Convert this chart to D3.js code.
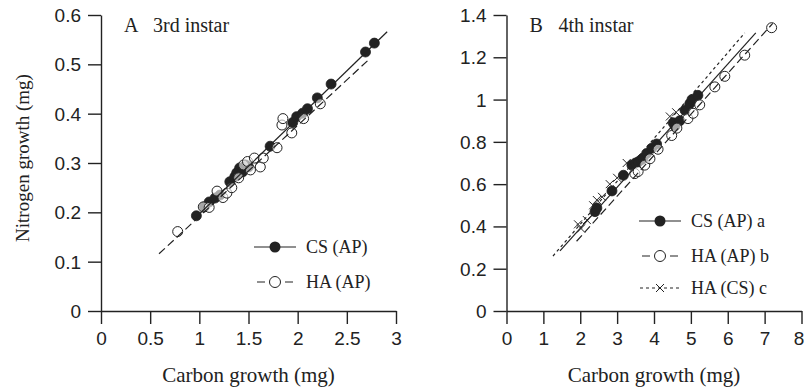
<!DOCTYPE html>
<html>
<head>
<meta charset="utf-8">
<script src="https://cdn.jsdelivr.net/npm/d3@7"></script>
<style>
  html, body { margin: 0; padding: 0; background: #fff; }
  svg { display: block; font-family: "Liberation Serif", "DejaVu Serif", serif; }
</style>
</head>
<body>
<div id="chart"></div>
<script>
// Panel A: 3rd instar
const csA_x = [0.97, 1.05, 1.1, 1.16, 1.21, 1.31, 1.36, 1.38, 1.41, 1.44, 1.47, 1.5, 1.72, 1.95, 1.99, 2.05, 2.1, 2.2, 2.34, 2.69, 2.78];
const csA_y = [0.193, 0.211, 0.221, 0.229, 0.235, 0.262, 0.272, 0.28, 0.29, 0.282, 0.296, 0.292, 0.334, 0.382, 0.394, 0.401, 0.41, 0.432, 0.46, 0.525, 0.543];
const haA_x = [0.78, 1.04, 1.1, 1.18, 1.24, 1.28, 1.33, 1.4, 1.45, 1.49, 1.52, 1.56, 1.62, 1.65, 1.79, 1.84, 1.85, 1.94, 2.06, 2.23];
const haA_y = [0.161, 0.211, 0.21, 0.243, 0.23, 0.239, 0.25, 0.27, 0.296, 0.303, 0.286, 0.31, 0.292, 0.31, 0.331, 0.377, 0.39, 0.361, 0.39, 0.42];
// fitted lines, [x0, x1] and [y0, y1]
const fitCsA_x = [0.95, 2.91], fitCsA_y = [0.187, 0.566];
const fitHaA_x = [0.59, 2.72], fitHaA_y = [0.116, 0.509];

// Panel B: 4th instar
const csB_x = [2.4, 2.45, 2.86, 3.17, 3.4, 3.5, 3.57, 3.65, 3.7, 3.8, 3.94, 4.07, 4.52, 4.57, 4.7, 4.84, 4.97, 5.03, 5.19];
const csB_y = [0.47, 0.487, 0.568, 0.642, 0.69, 0.7, 0.705, 0.715, 0.722, 0.745, 0.77, 0.79, 0.89, 0.875, 0.9, 0.95, 0.98, 1.0, 1.02];
const haB_x = [3.48, 3.57, 3.75, 3.89, 4.11, 4.48, 4.62, 4.92, 5.06, 5.24, 5.65, 5.92, 6.46, 7.19];
const haB_y = [0.65, 0.66, 0.69, 0.72, 0.765, 0.83, 0.865, 0.91, 0.935, 0.975, 1.06, 1.11, 1.21, 1.34];
const hacsB_x = [1.94, 2.02, 2.18, 2.35, 2.45, 2.59, 2.8, 3.0, 3.26, 4.43, 4.6];
const hacsB_y = [0.41, 0.39, 0.43, 0.5, 0.525, 0.54, 0.6, 0.63, 0.7, 0.92, 0.94];
const fitCsB_x = [1.45, 6.76], fitCsB_y = [0.284, 1.315];
const fitHaB_x = [1.9, 7.22], fitHaB_y = [0.33, 1.36];
const fitHacsB_x = [1.26, 6.46], fitHacsB_y = [0.26, 1.315];

// ticks
const xTicksA = [0, 0.5, 1, 1.5, 2, 2.5, 3];
const yTicksA = [0, 0.1, 0.2, 0.3, 0.4, 0.5, 0.6];
const xTicksB = [0, 1, 2, 3, 4, 5, 6, 7, 8];
const yTicksB = [0, 0.2, 0.4, 0.6, 0.8, 1, 1.2, 1.4];

const ink = '#222';
const width = 804, height = 387;

const svg = d3.select('#chart').append('svg')
  .attr('width', width)
  .attr('height', height);

const zip = (xs, ys) => xs.map((x, i) => ({ x: x, y: ys[i] }));

function drawPanel(p) {
  const x = d3.scaleLinear().domain(p.xDomain).range(p.xRange);
  const y = d3.scaleLinear().domain(p.yDomain).range([311, 15]);
  const g = svg.append('g');

  // axes
  const xAxis = g.append('g')
    .attr('transform', `translate(0,${y(0)})`)
    .call(d3.axisBottom(x).tickValues(p.xTicks).tickFormat(d => String(d))
      .tickSize(13).tickSizeOuter(0).tickPadding(8));
  const yAxis = g.append('g')
    .attr('transform', `translate(${x(0)},0)`)
    .call(d3.axisLeft(y).tickValues(p.yTicks).tickFormat(d => String(d))
      .tickSize(13).tickSizeOuter(0).tickPadding(7));
  [xAxis, yAxis].forEach(a => {
    a.selectAll('path, line').attr('stroke', ink).attr('stroke-width', 1.4);
    a.selectAll('text').attr('fill', ink).style('font-size', '19px').style('font-family', 'inherit');
  });
  yAxis.selectAll('text').attr('dy', '0.34em');
  // last x label sits on the page edge, nudge it in
  xAxis.selectAll('.tick text').filter(d => d === p.xDomain[1] && p.xRange[1] > 790).attr('dx', -3);

  // x title
  g.append('text')
    .attr('x', (p.xRange[0] + p.xRange[1]) / 2)
    .attr('y', 382)
    .attr('text-anchor', 'middle')
    .attr('fill', ink)
    .style('font-size', '21px')
    .text('Carbon growth (mg)');

  // panel label
  g.append('text').attr('x', x(0) + 23).attr('y', 32).attr('fill', ink)
    .style('font-size', '20px').text(p.letter);
  g.append('text').attr('x', x(0) + 52).attr('y', 32).attr('fill', ink)
    .style('font-size', '20px').text(p.title);

  // markers
  p.series.forEach(s => {
    const pts = zip(s.xs, s.ys);
    if (s.marker === 'filled') {
      g.append('g').selectAll('circle').data(pts).enter().append('circle')
        .attr('cx', d => x(d.x)).attr('cy', d => y(d.y)).attr('r', 5)
        .attr('fill', ink).attr('stroke', ink).attr('stroke-width', 0.8);
    } else if (s.marker === 'open') {
      g.append('g').selectAll('circle').data(pts).enter().append('circle')
        .attr('cx', d => x(d.x)).attr('cy', d => y(d.y)).attr('r', 5)
        .attr('fill', '#fff').attr('fill-opacity', 0.6).attr('stroke', ink).attr('stroke-width', 1);
    } else {
      g.append('g').selectAll('path').data(pts).enter().append('path')
        .attr('d', d => `M${x(d.x) - 4},${y(d.y) - 4}L${x(d.x) + 4},${y(d.y) + 4}M${x(d.x) - 4},${y(d.y) + 4}L${x(d.x) + 4},${y(d.y) - 4}`)
        .attr('stroke', ink).attr('stroke-width', 1).attr('fill', 'none');
    }
  });

  // fitted lines
  const line = d3.line().x(d => x(d.x)).y(d => y(d.y));
  p.series.forEach(s => {
    g.append('path')
      .datum(zip(s.fitX, s.fitY))
      .attr('d', line)
      .attr('fill', 'none')
      .attr('stroke', ink)
      .attr('stroke-width', 1.2)
      .attr('stroke-dasharray', s.dash);
  });

  // legend
  p.series.forEach((s, i) => {
    const ly = p.legend.y[i];
    const lx0 = p.legend.x, lx1 = p.legend.x + 42, cx = (lx0 + lx1) / 2;
    const lg = g.append('g');
    if (s.marker === 'filled') {
      lg.append('circle').attr('cx', cx).attr('cy', ly).attr('r', 5.5).attr('fill', ink);
    } else if (s.marker === 'open') {
      lg.append('circle').attr('cx', cx).attr('cy', ly).attr('r', 5.5)
        .attr('fill', 'none').attr('stroke', ink).attr('stroke-width', 1);
    } else {
      lg.append('path')
        .attr('d', `M${cx - 4},${ly - 4}L${cx + 4},${ly + 4}M${cx - 4},${ly + 4}L${cx + 4},${ly - 4}`)
        .attr('stroke', ink).attr('stroke-width', 1);
    }
    lg.append('line').attr('x1', lx0 + s.legendInset).attr('x2', lx1 - s.legendInset).attr('y1', ly).attr('y2', ly)
      .attr('stroke', ink).attr('stroke-width', 1.2).attr('stroke-dasharray', s.legendDash);
    lg.append('text').attr('x', p.legend.x + 52).attr('y', ly).attr('dy', '0.34em')
      .attr('fill', ink).style('font-size', '18px').text(s.name);
  });

  return { x, y };
}

drawPanel({
  letter: 'A', title: '3rd instar',
  xDomain: [0, 3], xRange: [101, 396], yDomain: [0, 0.6],
  xTicks: xTicksA, yTicks: yTicksA,
  legend: { x: 254, y: [247, 282] },
  series: [
    { name: 'CS (AP)', marker: 'filled', xs: csA_x, ys: csA_y, fitX: fitCsA_x, fitY: fitCsA_y, dash: null, legendDash: null, legendInset: 0 },
    { name: 'HA (AP)', marker: 'open', xs: haA_x, ys: haA_y, fitX: fitHaA_x, fitY: fitHaA_y, dash: '8,4', legendDash: '8,20', legendInset: 3 }
  ]
});

drawPanel({
  letter: 'B', title: '4th instar',
  xDomain: [0, 8], xRange: [506.5, 801.5], yDomain: [0, 1.4],
  xTicks: xTicksB, yTicks: yTicksB,
  legend: { x: 639, y: [221, 256, 288] },
  series: [
    { name: 'CS (AP) a', marker: 'filled', xs: csB_x, ys: csB_y, fitX: fitCsB_x, fitY: fitCsB_y, dash: null, legendDash: null, legendInset: 0 },
    { name: 'HA (AP) b', marker: 'open', xs: haB_x, ys: haB_y, fitX: fitHaB_x, fitY: fitHaB_y, dash: '8,4', legendDash: '8,20', legendInset: 3 },
    { name: 'HA (CS) c', marker: 'cross', xs: hacsB_x, ys: hacsB_y, fitX: fitHacsB_x, fitY: fitHacsB_y, dash: '3,3', legendDash: '3,3', legendInset: 1 }
  ]
});

// y title (panel A only)
svg.append('text')
  .attr('transform', 'translate(29,158) rotate(-90)')
  .attr('text-anchor', 'middle')
  .attr('fill', ink)
  .style('font-size', '19px')
  .text('Nitrogen growth (mg)');
</script>
</body>
</html>
